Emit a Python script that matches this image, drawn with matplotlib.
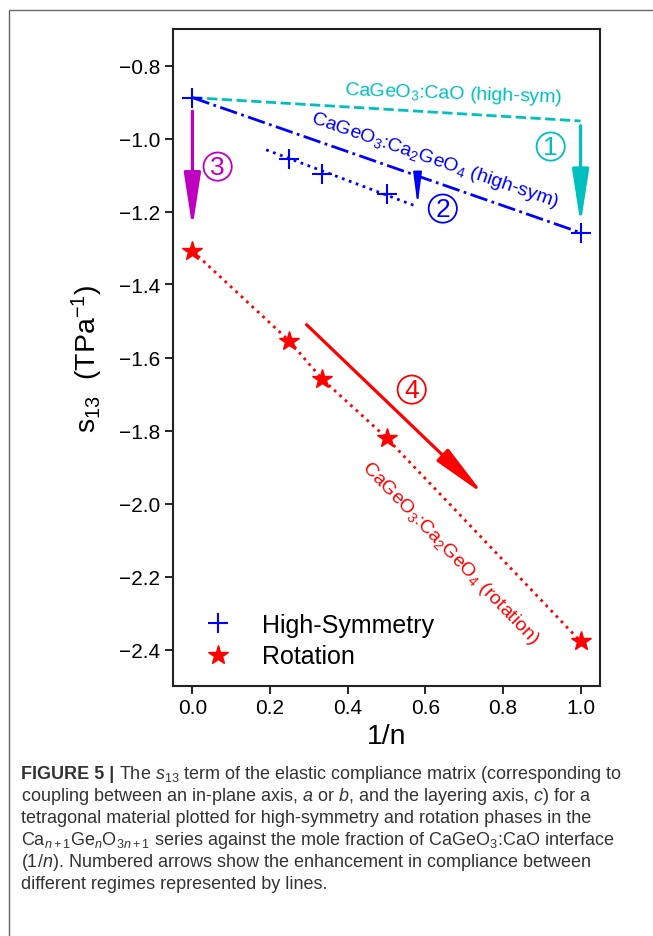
"""
s13 compliance against 1/n for CaGeO3:CaO layered phases.
"""

import matplotlib
matplotlib.use("Agg")
import matplotlib.pyplot as plt
from matplotlib.patches import Rectangle

plt.rcParams["font.family"] = ["Liberation Sans", "DejaVu Sans"]
plt.rcParams["mathtext.fontset"] = "custom"
plt.rcParams["mathtext.rm"] = "Liberation Sans"
plt.rcParams["mathtext.it"] = "Liberation Sans:italic"
plt.rcParams["mathtext.bf"] = "Liberation Sans:bold"

# high-symmetry phases
hs_x = [0.0, 0.25, 0.333, 0.5, 1.0]
hs_y = [-0.888, -1.057, -1.097, -1.153, -1.258]

# rotation phases
rot_x = [0.0, 0.25, 0.333, 0.5, 1.0]
rot_y = [-1.308, -1.555, -1.658, -1.82, -2.378]

# guide lines
cao_x = [0.0, 1.0]
cao_y = [-0.888, -0.952]
ca2_x = [0.0, 1.0]
ca2_y = [-0.888, -1.258]
fit_x = [0.19, 0.57]
fit_y = [-1.031, -1.183]

# numbered arrows and their circled labels
arrow_start = [(1.0, -0.965), (0.58, -1.117), (0.0, -0.925), (0.294, -1.51)]
arrow_end = [(1.0, -1.235), (0.58, -1.182), (0.0, -1.245), (0.75, -1.975)]
arrow_colors = ["c", "b", "m", "r"]
arrow_labels = ["1", "2", "3", "4"]
label_pos = [(0.923, -1.022), (0.645, -1.192), (0.065, -1.077), (0.565, -1.688)]

x_ticks = [0.0, 0.2, 0.4, 0.6, 0.8, 1.0]
y_ticks = [-2.4, -2.2, -2.0, -1.8, -1.6, -1.4, -1.2, -1.0, -0.8]

W, H = 653, 937
fig = plt.figure(figsize=(W / 100, H / 100), dpi=100)
fig.patches.append(
    Rectangle((9 / W, -0.1), 1.2, 1.1 - 11 / H, transform=fig.transFigure,
              fill=False, edgecolor="#666666", linewidth=1.0)
)

ax = fig.add_axes([173 / W, 1 - 687 / H, 427 / W, 657 / H])

ax.plot(cao_x, cao_y, "--", color="c", lw=2)
ax.plot(ca2_x, ca2_y, "-.", color="b", lw=2)
ax.plot(fit_x, fit_y, ":", color="b", lw=2)
ax.plot(rot_x, rot_y, ":", color="r", lw=2)
ax.plot(hs_x, hs_y, "+", color="b", ms=15, mew=1.5, ls="none", label="High-Symmetry")
ax.plot(rot_x, rot_y, "*", color="r", ms=15, ls="none", label="Rotation")

for (x0, y0), (x1, y1), col in zip(arrow_start, arrow_end, arrow_colors):
    if col == "b":
        style = "-|>,head_length=1.2,head_width=0.16"
        lw, ms = 1.3, 16
    else:
        style = "-|>,head_length=1.1,head_width=0.17"
        lw, ms = 2.3, 30
    ax.annotate("", xy=(x1, y1), xytext=(x0, y0),
                arrowprops=dict(arrowstyle=style, color=col, lw=lw,
                                mutation_scale=ms, shrinkA=0, shrinkB=0))

for (lx, ly), txt, col in zip(label_pos, arrow_labels, arrow_colors):
    ax.text(lx, ly, txt, color=col, fontsize=19, ha="center", va="center",
            bbox=dict(boxstyle="circle,pad=0.08", fc="none", ec=col, lw=1.3))

ax.text(0.672, -0.875, "CaGeO$_3$:CaO (high-sym)", color="c", fontsize=14,
        rotation=-2, ha="center", va="center", rotation_mode="anchor")
ax.text(0.623, -1.058, "CaGeO$_3$:Ca$_2$GeO$_4$ (high-sym)", color="b", fontsize=14,
        rotation=-19, ha="center", va="center", rotation_mode="anchor")
ax.text(0.665, -2.134, "CaGeO$_3$:Ca$_2$GeO$_4$ (rotation)", color="r", fontsize=14,
        rotation=-46, ha="center", va="center", rotation_mode="anchor")

ax.set_xlim(-0.05, 1.05)
ax.set_ylim(-2.5, -0.7)
ax.set_xticks(x_ticks)
ax.set_yticks(y_ticks)
ax.tick_params(labelsize=15, length=5.5, width=1.2)
for sp in ax.spines.values():
    sp.set_linewidth(1.5)
    sp.set_color("#222222")
ax.set_xlabel("1/n", fontsize=20.5)
ax.set_ylabel("s$_{13}$  (TPa$^{-1}$)", fontsize=20.5, labelpad=10)
ax.legend(loc="lower left", frameon=False, fontsize=18, handletextpad=0.66,
          handlelength=2.2, borderaxespad=0.3, borderpad=0.4, labelspacing=0.3)

# caption
cap_x = 21 / W
cap_base = [779 + 22 * i for i in range(6)]
cap_lines = [
    " The $s_{13}$ term of the elastic compliance matrix (corresponding to",
    "coupling between an in-plane axis, $a$ or $b$, and the layering axis, $c$) for a",
    "tetragonal material plotted for high-symmetry and rotation phases in the",
    "Ca$_{n+1}$Ge$_n$O$_{3n+1}$ series against the mole fraction of CaGeO$_3$:CaO interface",
    "(1/$n$). Numbered arrows show the enhancement in compliance between",
    "different regimes represented by lines.",
]
cap_kw = dict(fontsize=13, color="#333333", va="baseline", ha="left")
head = fig.text(cap_x, 1 - cap_base[0] / H, "FIGURE 5 |", weight="bold", **cap_kw)
fig.canvas.draw()
bb = head.get_window_extent()
for i, line in enumerate(cap_lines):
    x = bb.x1 / fig.bbox.width if i == 0 else cap_x
    fig.text(x, 1 - cap_base[i] / H, line, **cap_kw)

fig.savefig("out.png", dpi=100)
plt.close(fig)
